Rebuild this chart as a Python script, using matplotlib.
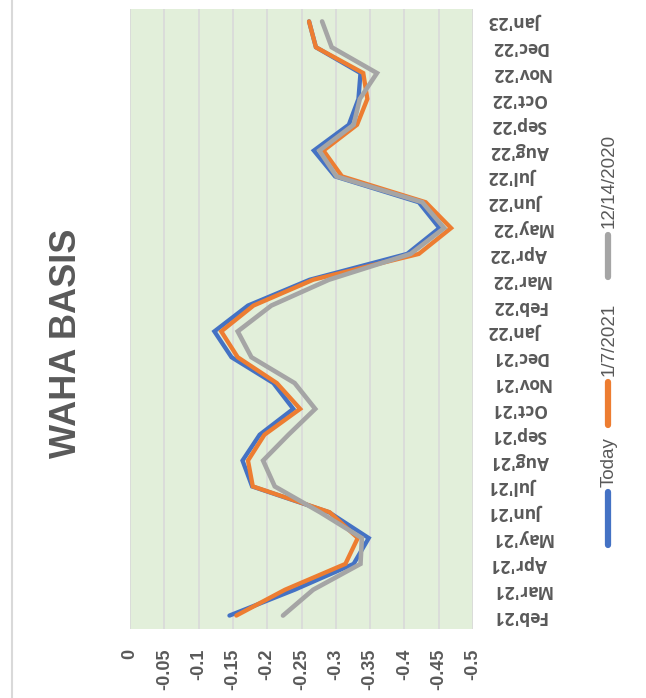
import matplotlib
matplotlib.use("Agg")
import matplotlib.pyplot as plt
from matplotlib.lines import Line2D

months = ["Feb'21", "Mar'21", "Apr'21", "May'21", "Jun'21", "Jul'21", "Aug'21", "Sep'21",
          "Oct'21", "Nov'21", "Dec'21", "Jan'22", "Feb'22", "Mar'22", "Apr'22", "May'22",
          "Jun'22", "Jul'22", "Aug'22", "Sep'22", "Oct'22", "Nov'22", "Dec'22", "Jan'23"]

today = [-0.145, -0.240, -0.326, -0.348, -0.290, -0.178, -0.164, -0.189,
         -0.238, -0.209, -0.148, -0.123, -0.172, -0.262, -0.404, -0.451,
         -0.421, -0.299, -0.268, -0.319, -0.333, -0.336, -0.271, -0.261]
jan7 = [-0.155, -0.226, -0.314, -0.332, -0.291, -0.179, -0.172, -0.196,
        -0.248, -0.214, -0.157, -0.133, -0.180, -0.267, -0.421, -0.468,
        -0.431, -0.309, -0.282, -0.331, -0.346, -0.340, -0.271, -0.261]
dec14 = [-0.223, -0.267, -0.336, -0.338, -0.277, -0.211, -0.194, -0.231,
         -0.270, -0.240, -0.177, -0.157, -0.206, -0.290, -0.409, -0.458,
         -0.426, -0.301, -0.276, -0.326, -0.335, -0.360, -0.294, -0.280]

series_names = ["Today", "1/7/2021", "12/14/2020"]
series_values = [today, jan7, dec14]
series_colors = ["#4472C4", "#ED7D31", "#A5A5A5"]
value_ticks = [0, -0.05, -0.1, -0.15, -0.2, -0.25, -0.3, -0.35, -0.4, -0.45, -0.5]
value_labels = ["0", "-0.05", "-0.1", "-0.15", "-0.2", "-0.25", "-0.3", "-0.35", "-0.4", "-0.45", "-0.5"]
title = "WAHA BASIS"

W, H = 646, 698
fig = plt.figure(figsize=(W / 100, H / 100), dpi=100)
fig.patch.set_facecolor("white")

L, R, T, B = 130, 473, 9, 629
ax = fig.add_axes([L / W, 1 - B / H, (R - L) / W, (B - T) / H])
ax.set_facecolor("#E2EFDA")

pos = list(range(len(months)))
widths = [3.1, 3.1, 3.3]
for name, vals, col, lw in zip(series_names, series_values, series_colors, widths):
    ax.plot(vals, pos, color=col, lw=lw, solid_capstyle="round", solid_joinstyle="miter", zorder=3)

ax.set_xlim(0, -0.5)
ax.set_ylim(-0.52, 23.48)
ax.set_xticks(value_ticks)
ax.grid(axis="x", color="#D9D9D9", lw=1.2, zorder=1)
ax.grid(axis="y", visible=False)
for s in ax.spines.values():
    s.set_visible(False)

sans = ["Liberation Sans", "DejaVu Sans"]
ax.set_xticklabels(value_labels, rotation=90, family=sans, weight="bold",
                   fontsize=13, color="#595959")
ax.tick_params(axis="x", length=0, pad=14)

ax.yaxis.tick_right()
ax.set_yticks(pos)
ax.set_yticklabels(months, rotation=180, ha="left", va="center",
                   family=["Open Sans", "DejaVu Sans"], weight="bold",
                   fontsize=12.5, color="#595959")
ax.tick_params(axis="y", length=0, pad=13)

# title
fig.text(67 / W, 1 - 343 / H, title, rotation=90, ha="center", va="center",
         family=sans, weight="bold", fontsize=26, color="#595959")

# chart border
fig.add_artist(Line2D([12 / W, 12 / W], [0, 1], color="#D9D9D9", lw=1.5))

# legend (rotated)
leg = [("Today", 492, 545, 437, 488), ("1/7/2021", 382, 425, 302, 377),
       ("12/14/2020", 235, 277, 133, 228)]
for (name, h0, h1, t0, t1), col in zip(leg, series_colors):
    fig.add_artist(Line2D([607.5 / W, 607.5 / W], [1 - h0 / H, 1 - h1 / H], color=col,
                          lw=4.5, solid_capstyle="round"))
    fig.text(609 / W, 1 - (t0 + t1) / 2 / H, name, rotation=90, ha="center", va="center",
             family=sans, fontsize=13.5, color="#595959")

fig.savefig("out.png", dpi=100)
